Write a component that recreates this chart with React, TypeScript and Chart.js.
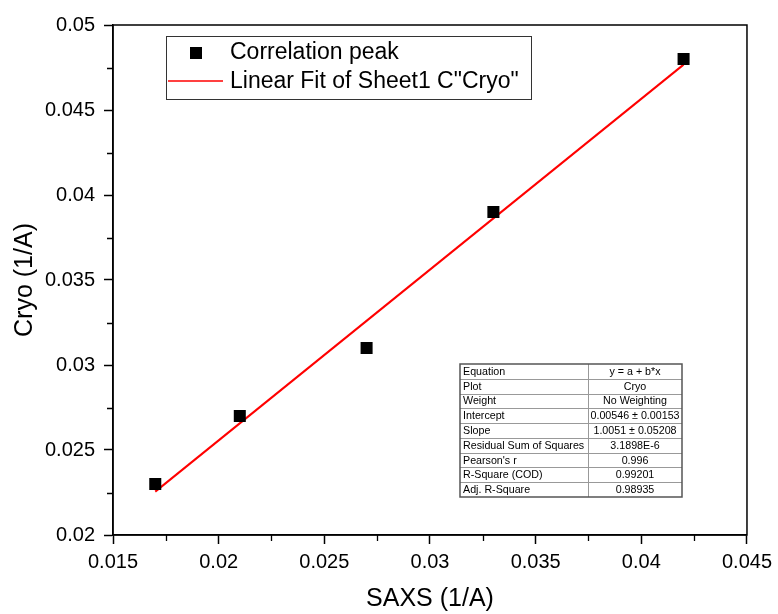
import React, { useEffect, useRef } from "react";
import { Chart, registerables } from "chart.js";

Chart.register(...registerables);

const saxs = [0.017, 0.021, 0.027, 0.033, 0.042];
const cryo = [0.023, 0.027, 0.031, 0.039, 0.048];
const fitX = [0.017, 0.042];
const fitY = [0.02255, 0.04767];

const xTicks = [0.015, 0.02, 0.025, 0.03, 0.035, 0.04, 0.045];
const xTickLabels = ["0.015", "0.02", "0.025", "0.03", "0.035", "0.04", "0.045"];
const yTicks = [0.02, 0.025, 0.03, 0.035, 0.04, 0.045, 0.05];
const yTickLabels = ["0.02", "0.025", "0.03", "0.035", "0.04", "0.045", "0.05"];
const xMinorTicks = [0.0175, 0.0225, 0.0275, 0.0325, 0.0375, 0.0425];
const yMinorTicks = [0.0225, 0.0275, 0.0325, 0.0375, 0.0425, 0.0475];

const xTitle = "SAXS (1/A)";
const yTitle = "Cryo (1/A)";
const legendLabels = ["Correlation peak", 'Linear Fit of Sheet1 C"Cryo"'];

const tableLabels = [
  "Equation",
  "Plot",
  "Weight",
  "Intercept",
  "Slope",
  "Residual Sum of Squares",
  "Pearson's r",
  "R-Square (COD)",
  "Adj. R-Square",
];
const tableValues = [
  "y = a + b*x",
  "Cryo",
  "No Weighting",
  "0.00546 ± 0.00153",
  "1.0051 ± 0.05208",
  "3.1898E-6",
  "0.996",
  "0.99201",
  "0.98935",
];

const FONT = "'Liberation Sans', Arial, sans-serif";

const decorPlugin = {
  id: "decor",
  afterDraw(chart: any) {
    const ctx = chart.ctx as CanvasRenderingContext2D;
    const ca = chart.chartArea;
    const xs = chart.scales.x;
    const ys = chart.scales.y;
    ctx.save();
    // frame
    ctx.strokeStyle = "#000";
    ctx.lineWidth = 1.5;
    ctx.strokeRect(ca.left, ca.top, ca.right - ca.left, ca.bottom - ca.top);
    // minor ticks
    ctx.lineWidth = 1.3;
    ctx.beginPath();
    xMinorTicks.forEach((v) => {
      const px = Math.round(xs.getPixelForValue(v)) + 0.5;
      ctx.moveTo(px, ca.bottom);
      ctx.lineTo(px, ca.bottom + 6);
    });
    yMinorTicks.forEach((v) => {
      const py = Math.round(ys.getPixelForValue(v)) + 0.5;
      ctx.moveTo(ca.left, py);
      ctx.lineTo(ca.left - 6, py);
    });
    ctx.stroke();

    // legend
    const lx = ca.left + 53;
    const ly = ca.top + 11;
    const lw = 365;
    const lh = 63;
    ctx.fillStyle = "#fff";
    ctx.fillRect(lx, ly, lw, lh);
    ctx.strokeStyle = "#333";
    ctx.lineWidth = 1;
    ctx.strokeRect(lx + 0.5, ly + 0.5, lw, lh);
    ctx.fillStyle = "#000";
    ctx.fillRect(lx + 24, ly + 11, 12, 12);
    ctx.strokeStyle = "#ff0000";
    ctx.lineWidth = 1.5;
    ctx.beginPath();
    ctx.moveTo(lx + 2, ly + 45);
    ctx.lineTo(lx + 57, ly + 45);
    ctx.stroke();
    ctx.fillStyle = "#000";
    ctx.font = `23px ${FONT}`;
    ctx.textBaseline = "middle";
    ctx.textAlign = "left";
    ctx.fillText(legendLabels[0], lx + 64, ly + 17);
    ctx.fillText(legendLabels[1], lx + 64, ly + 46);

    // table
    const tx = 460;
    const ty = 364;
    const tw = 222;
    const rowH = 133 / tableLabels.length;
    const th = rowH * tableLabels.length;
    const colX = tx + 128;
    ctx.fillStyle = "#fff";
    ctx.fillRect(tx, ty, tw, th);
    ctx.strokeStyle = "#999";
    ctx.lineWidth = 1;
    ctx.beginPath();
    for (let i = 1; i < tableLabels.length; i++) {
      const yy = Math.round(ty + i * rowH) + 0.5;
      ctx.moveTo(tx, yy);
      ctx.lineTo(tx + tw, yy);
    }
    ctx.moveTo(colX + 0.5, ty);
    ctx.lineTo(colX + 0.5, ty + th);
    ctx.stroke();
    ctx.strokeStyle = "#555";
    ctx.lineWidth = 1.5;
    ctx.strokeRect(tx, ty, tw, th);
    ctx.fillStyle = "#000";
    ctx.font = `10.7px ${FONT}`;
    ctx.textBaseline = "middle";
    tableLabels.forEach((t, i) => {
      const cy = ty + (i + 0.5) * rowH + 0.5;
      ctx.textAlign = "left";
      ctx.fillText(t, tx + 3, cy);
      ctx.textAlign = "center";
      ctx.fillText(tableValues[i], (colX + tx + tw) / 2, cy);
    });
    ctx.restore();
  },
};

export default function App() {
  const ref = useRef<HTMLCanvasElement | null>(null);
  useEffect(() => {
    document.body.style.margin = "0";
    const canvas = ref.current;
    if (!canvas) return;
    const chart = new Chart(canvas, {
      type: "scatter",
      data: {
        datasets: [
          {
            label: legendLabels[0],
            data: saxs.map((x, i) => ({ x, y: cryo[i] })),
            pointStyle: "rect",
            pointRadius: 8.5,
            pointHoverRadius: 8.5,
            backgroundColor: "#000",
            borderColor: "#000",
            borderWidth: 0,
            order: 0,
          },
          {
            label: legendLabels[1],
            data: fitX.map((x, i) => ({ x, y: fitY[i] })),
            showLine: true,
            pointRadius: 0,
            borderColor: "#ff0000",
            backgroundColor: "#ff0000",
            borderWidth: 2,
            order: 1,
          },
        ] as any,
      },
      options: {
        responsive: false,
        animation: false,
        devicePixelRatio: 1,
        layout: { padding: { top: 25, right: 31, left: 0, bottom: 0 } },
        plugins: { legend: { display: false }, tooltip: { enabled: false } },
        scales: {
          x: {
            type: "linear",
            min: 0.015,
            max: 0.045,
            afterFit: (s: any) => {
              s.height = 79;
            },
            afterBuildTicks: (s: any) => {
              s.ticks = xTicks.map((v) => ({ value: v }));
            },
            grid: {
              display: true,
              drawOnChartArea: false,
              drawTicks: true,
              tickLength: 9,
              tickColor: "#000",
              tickWidth: 1.5,
            },
            border: { display: true, color: "#000", width: 1.5 },
            ticks: {
              color: "#000",
              padding: 6,
              maxRotation: 0,
              autoSkip: false,
              font: { family: FONT, size: 20 },
              callback: (_v: any, i: number) => xTickLabels[i],
            },
            title: {
              display: true,
              text: xTitle,
              color: "#000",
              font: { family: FONT, size: 25 },
              padding: { top: 0, bottom: 0 },
            },
          },
          y: {
            type: "linear",
            min: 0.02,
            max: 0.05,
            afterFit: (s: any) => {
              s.width = 113;
            },
            afterBuildTicks: (s: any) => {
              s.ticks = yTicks.map((v) => ({ value: v }));
            },
            grid: {
              display: true,
              drawOnChartArea: false,
              drawTicks: true,
              tickLength: 9,
              tickColor: "#000",
              tickWidth: 1.5,
            },
            border: { display: true, color: "#000", width: 1.5 },
            ticks: {
              color: "#000",
              padding: 9,
              autoSkip: false,
              font: { family: FONT, size: 20 },
              callback: (_v: any, i: number) => yTickLabels[i],
            },
            title: {
              display: true,
              text: yTitle,
              color: "#000",
              font: { family: FONT, size: 25 },
              padding: { top: 10, bottom: 0 },
            },
          },
        },
      },
      plugins: [decorPlugin],
    });
    return () => chart.destroy();
  }, []);
  return (
    <div style={{ width: 778, height: 614, background: "#fff" }}>
      <canvas ref={ref} width={778} height={614} style={{ display: "block" }} />
    </div>
  );
}
